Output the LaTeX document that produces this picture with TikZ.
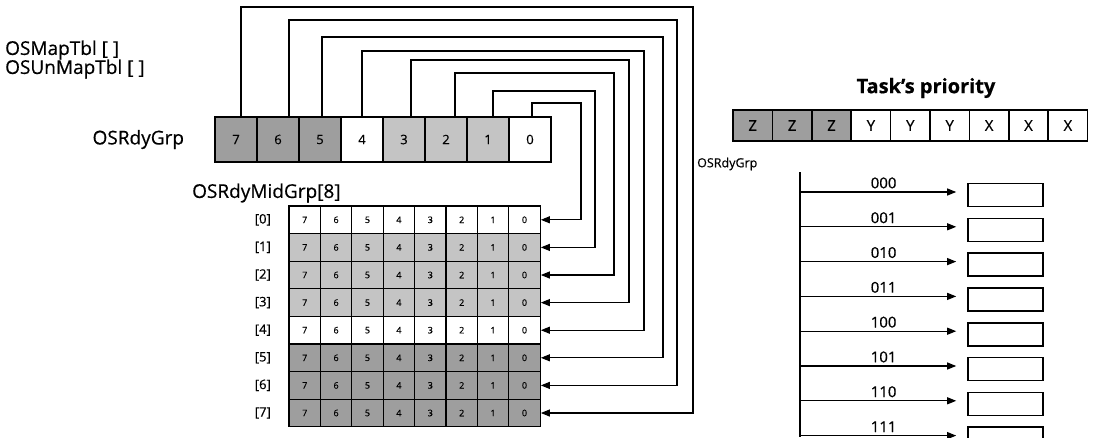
\documentclass[tikz,border=0pt]{standalone}
\usepackage{fontspec}
\setmainfont{Open Sans}[FakeBold=0.5]
\usetikzlibrary{arrows.meta,positioning}
\colorlet{dkgrey}{black!38}
\colorlet{ltgrey}{black!23}
\newcommand{\px}[1]{\fontsize{#1}{#1}\selectfont}

\begin{document}
\begin{tikzpicture}[x=1pt,y=-1pt,
  bit/.style={draw,line width=1.6pt,minimum width=42pt,minimum height=45pt,inner sep=0pt,font=\px{13}},
  mid/.style={draw,line width=1.3pt,minimum width=31.4pt,minimum height=27.6pt,inner sep=0pt,font=\px{9}},
  pri/.style={draw,line width=1.6pt,minimum width=39.4pt,minimum height=31pt,inner sep=0pt,font=\px{15}},
  slot/.style={draw,line width=1.6pt,minimum width=75pt,minimum height=23pt,inner sep=0pt},
  big/.style={font=\px{19},inner sep=0pt},
  ar/.style={-{Triangle[length=9pt,width=7pt]},line width=1.1pt}]
\useasboundingbox (0,0) rectangle (1098,437);

% tables
\node[big,anchor=west] (map) at (5,50) {OSMapTbl [ ]};
\node[big,anchor=west] (unmap) at (5,69) {OSUnMapTbl [ ]};

% OSRdyGrp
\foreach \b/\f [count=\k from 0] in {7/dkgrey,6/dkgrey,5/dkgrey,4/white,3/ltgrey,2/ltgrey,1/ltgrey,0/white}
  \node[bit,fill=\f] (b\b) at (236+42*\k,139.5) {\b};
\node[big,left=30pt of b7] (rdy) {OSRdyGrp};

% OSRdyMidGrp[8]
\node[big,anchor=west] (midlbl) at (192,193) {OSRdyMidGrp[8]};
\foreach \r/\f in {0/white,1/ltgrey,2/ltgrey,3/ltgrey,4/white,5/dkgrey,6/dkgrey,7/dkgrey}{
  \foreach \c [count=\k from 0] in {7,...,0}
    \node[mid,fill=\f] (g\r-\c) at (304.7+31.4*\k,219.8+27.6*\r) {\c};
  \node[font=\px{13},left=14pt of g\r-7] (l\r) {[\r]};
}

% bit -> row
\foreach \b/\dx/\xr/\yt in {7/5/693/7,6/11/677/20,5/2/663/37,4/0/644/51,3/7/629/60,2/9/614/73,1/5/595/91,0/2/581/103}
  \draw[ar] ([xshift=\dx pt]b\b.north) |- (\xr,\yt) |- (g\b-0.east);

% task's priority
\foreach \t/\f [count=\k from 0] in {Z/dkgrey,Z/dkgrey,Z/dkgrey,Y/white,Y/white,Y/white,X/white,X/white,X/white}
  \node[pri,fill=\f] (p\k) at (752.7+39.4*\k,125.5) {\t};
\node[big,font=\px{20}\bfseries] (task) at (926,88) {Task's priority};
\node[font=\px{12.5},anchor=west,inner sep=0pt] (grp) at (697,164) {OSRdyGrp};

% ready lists
\coordinate (bus) at (800,172);
\coordinate (busend) at (800,437);
\draw[line width=1.1pt] (bus) -- (busend);
\foreach \v [count=\k from 0] in {000,001,010,011,100,101,110,111}{
  \node[slot] (s\k) at (1005.5,195+34.8*\k) {};
  \coordinate (o\k) at (800,192+34.8*\k);
  \draw[ar,shorten >=11pt] (o\k) -- node[above=2pt,font=\px{15},inner sep=1pt]{\v} (o\k -| s\k.west);
}
\end{tikzpicture}
\end{document}
